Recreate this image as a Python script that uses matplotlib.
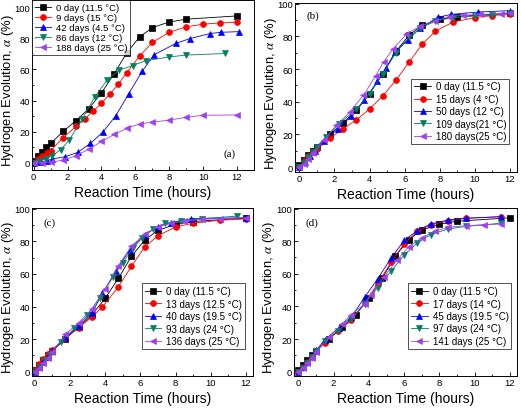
import matplotlib
matplotlib.use("Agg")
import matplotlib.pyplot as plt
from matplotlib.ticker import MultipleLocator

plt.rcParams['font.family'] = ['Liberation Sans', 'DejaVu Sans']
plt.rcParams['mathtext.fontset'] = 'stix'

# ---- data ----
x0 = [0, 0.25, 0.5, 0.75, 1.0, 1.75, 2.5, 3.25, 4.0, 4.75, 5.5, 6.25, 7.0, 8.0, 9.0, 12.0]
y0 = [1, 4.3, 7.3, 10.0, 12.6, 20.3, 27.2, 34.8, 45.0, 57.2, 70.8, 80.8, 86.8, 90.4, 92.2, 94.3]

# panel (a)
a_labels = ["0 day (11.5 °C)", "9 days (15 °C)", "42 days (4.5 °C)", "86 days (12 °C)", "188 days (25 °C)"]
a1_x = [0, 0.25, 0.5, 0.78, 1.0, 1.75, 2.5, 3.0, 3.5, 4.0, 4.5, 5.0, 5.5, 6.25, 7.0, 8.0, 9.0, 10.0, 11.0, 12.0]
a1_y = [0, 2.5, 4.7, 6.4, 8.0, 16.3, 23.5, 28.0, 33.2, 38.2, 44.3, 50.6, 58.0, 68.6, 77.3, 83.8, 87.3, 89.0, 89.8, 90.2]
a2_x = [0, 0.4, 0.8, 1.1, 1.85, 2.6, 3.35, 4.1, 4.85, 5.6, 6.4, 7.1, 8.4, 9.2, 10.4, 11.05, 12.1]
a2_y = [0, 0.5, 1.5, 2.6, 4.0, 6.8, 12.6, 20.0, 30.4, 44.3, 58.7, 69.4, 76.7, 79.7, 83.0, 83.8, 84.2]
a3_x = [0, 0.35, 0.7, 1.1, 1.6, 2.1, 2.85, 3.6, 4.35, 5.05, 5.85, 6.6, 8.0, 9.0, 11.3]
a3_y = [0, 1.2, 2.6, 4.7, 8.6, 14.8, 28.0, 42.3, 53.5, 59.5, 62.5, 65.5, 68.0, 69.2, 70.2]
a4_x = [0, 0.5, 1.0, 1.75, 2.5, 3.25, 4.0, 4.75, 5.5, 6.25, 7.0, 8.0, 9.0, 10.0, 12.0]
a4_y = [0, 0.3, 0.5, 1.8, 4.7, 8.8, 13.8, 18.3, 22.3, 25.0, 26.2, 27.5, 29.3, 30.6, 30.8]

# panel (b)
b_labels = ["0 day (11.5 °C)", "15 days (4 °C)", "50 days (12 °C)", "109 days(21 °C)", "180 days(25 °C)"]
b1_x = [0, 0.25, 0.5, 0.75, 1.0, 1.75, 2.5, 3.25, 4.0, 4.75, 5.5, 6.25, 7.0, 7.75, 8.75, 10.0, 11.0, 12.0]
b1_y = [0, 3.5, 6.5, 9.0, 11.0, 17.8, 23.5, 29.0, 35.6, 43.6, 53.2, 64.3, 75.3, 83.2, 88.8, 91.6, 92.8, 93.8]
b2_x = [0, 0.3, 0.6, 0.9, 1.4, 2.2, 2.95, 3.7, 4.45, 4.95, 5.45, 6.2, 6.86, 7.9, 8.65, 10.2, 12.0]
b2_y = [0, 3.0, 6.5, 10.0, 16.0, 23.5, 31.0, 41.0, 52.5, 60.8, 70.4, 78.0, 85.0, 91.8, 93.5, 95.0, 95.8]
b3_x = [0, 0.25, 0.5, 0.75, 1.0, 1.5, 2.25, 3.25, 4.0, 4.75, 5.5, 6.25, 6.9, 7.75, 8.75, 10.0, 11.0, 12.0]
b3_y = [0, 2.5, 6.0, 9.5, 12.5, 18.5, 26.5, 35.5, 45.0, 57.0, 70.0, 79.5, 85.0, 89.5, 91.5, 92.5, 93.0, 94.5]
b4_x = [0, 0.25, 0.5, 0.75, 1.4, 2.1, 2.9, 3.65, 4.35, 4.8, 5.35, 6.1, 6.9, 7.7, 8.5, 9.3, 10.3, 11.5, 12.0]
b4_y = [0, 2.0, 5.0, 8.5, 16.5, 25.5, 34.0, 44.0, 56.0, 64.5, 72.5, 81.5, 86.5, 89.5, 92.0, 93.0, 93.5, 94.0, 94.5]

# panel (c)
c_labels = ["0 day (11.5 °C)", "13 days (12.5 °C)", "40 days (19.5 °C)", "93 days (24 °C)", "136 days (25 °C)"]
c1_x = [0, 0.25, 0.5, 0.75, 1.0, 1.75, 2.5, 3.25, 3.85, 4.75, 5.5, 6.25, 7.0, 8.0, 9.0, 10.5, 12.0]
c1_y = [1.2, 4.5, 7.8, 10.8, 13.5, 20.8, 27.0, 33.5, 39.8, 52.0, 64.8, 76.5, 83.5, 88.8, 91.2, 93.0, 93.8]
c2_x = [0, 0.25, 0.5, 0.75, 1.0, 1.75, 2.5, 3.25, 3.85, 4.6, 5.4, 6.25, 7.0, 7.75, 8.9, 12.0]
c2_y = [0, 3.0, 6.0, 9.0, 12.5, 21.0, 28.0, 36.0, 48.0, 61.5, 75.0, 84.0, 89.0, 91.5, 94.0, 94.5]
c3_x = [0, 0.3, 0.6, 0.9, 1.5, 2.25, 3.0, 3.7, 4.45, 5.0, 5.6, 6.1, 6.7, 7.4, 8.3, 9.5, 11.5]
c3_y = [0, 3.0, 7.0, 10.5, 18.5, 26.5, 34.5, 45.5, 58.0, 67.0, 76.0, 82.0, 87.5, 91.0, 92.8, 94.0, 95.5]
c4_x = [0, 0.25, 0.5, 0.75, 1.0, 1.75, 2.5, 3.25, 4.0, 4.75, 5.5, 6.25, 7.0, 7.75, 8.5, 9.5, 10.5, 12.0]
c4_y = [0, 2.0, 5.0, 8.5, 12.0, 23.0, 30.0, 38.5, 50.5, 65.0, 77.0, 84.5, 89.0, 91.0, 92.5, 93.5, 94.0, 94.5]

# panel (d)
d_labels = ["0 day (11.5 °C)", "17 days (14 °C)", "45 days (19.5 °C)", "97 days (24 °C)", "141 days (25 °C)"]
d1_x = [0, 0.25, 0.5, 0.75, 1.0, 1.5, 2.25, 3.0, 3.75, 4.5, 5.25, 6.0, 6.75, 7.5, 8.5, 9.5, 11.5]
d1_y = [0, 3.0, 6.0, 9.0, 12.5, 17.8, 24.8, 31.4, 42.0, 54.0, 67.0, 78.5, 86.0, 90.0, 92.5, 94.0, 95.0]
d2_x = [0, 0.25, 0.5, 0.75, 1.0, 1.5, 2.3, 3.0, 3.75, 4.5, 5.25, 6.0, 6.75, 7.5, 8.5, 9.5, 11.5]
d2_y = [0, 3.0, 6.0, 9.5, 13.0, 19.5, 27.0, 33.5, 45.5, 57.0, 69.5, 80.5, 86.5, 90.5, 93.0, 94.0, 95.0]
d3_x = [0, 0.25, 0.5, 0.75, 1.0, 1.5, 2.25, 3.0, 3.75, 4.5, 5.25, 6.0, 6.75, 7.5, 8.5, 9.5, 11.5]
d3_y = [0, 2.5, 5.5, 9.0, 12.5, 18.5, 25.0, 32.5, 41.5, 51.5, 61.5, 71.5, 79.0, 84.0, 87.5, 89.0, 91.0]
d4_x = [0, 0.25, 0.5, 0.75, 1.0, 1.75, 2.5, 3.0, 3.75, 4.1, 4.85, 5.6, 6.25, 7.0, 7.75, 8.5, 9.5, 10.5, 11.5]
d4_y = [0, 2.0, 5.0, 8.5, 12.0, 21.0, 29.5, 35.0, 41.5, 47.0, 58.0, 68.5, 76.5, 82.0, 86.0, 88.5, 89.5, 90.0, 90.5]

colors = ['#000000', '#FF0000', '#0000FF', '#008060', '#A040F0']
markers = ['s', 'o', '^', 'v', '<']

fig = plt.figure(figsize=(5.21, 4.10), dpi=100)

panels = [
    dict(rect=[32/521, 1-170.7/410, 222/521, 169.7/410], xlim=(-0.1, 13.0), ylim=(-4.3, 104.5),
         labels=a_labels, series=[(x0, y0), (a1_x, a1_y), (a2_x, a2_y), (a3_x, a3_y), (a4_x, a4_y)],
         tag='(a)', tagpos=(0.892, 0.098), ylab_x=-0.074, legfs=6.8, legsp=0.12,
         legloc=dict(loc='upper left', bbox_to_anchor=(0.0, 1.0))),
    dict(rect=[295/521, 1-173/410, 222/521, 169/410], xlim=(-0.25, 12.4), ylim=(-3, 100.5),
         labels=b_labels, series=[(x0, y0), (b1_x, b1_y), (b2_x, b2_y), (b3_x, b3_y), (b4_x, b4_y)],
         tag='(b)', tagpos=(0.081, 0.929), ylab_x=-0.074, legfs=7.0, legsp=0.25,
         legloc=dict(loc='lower right', bbox_to_anchor=(0.965, 0.165))),
    dict(rect=[32/521, 1-376.7/410, 221/521, 167.7/410], xlim=(-0.15, 12.4), ylim=(-2.5, 100.5),
         labels=c_labels, series=[(x0, y0), (c1_x, c1_y), (c2_x, c2_y), (c3_x, c3_y), (c4_x, c4_y)],
         tag='(c)', tagpos=(0.081, 0.915), ylab_x=-0.074, legfs=7.0, legsp=0.25,
         legloc=dict(loc='lower right', bbox_to_anchor=(0.965, 0.16))),
    dict(rect=[294/521, 1-376.7/410, 223/521, 168/410], xlim=(-0.25, 12.4), ylim=(-2.5, 100.5),
         labels=d_labels, series=[(x0, y0), (d1_x, d1_y), (d2_x, d2_y), (d3_x, d3_y), (d4_x, d4_y)],
         tag='(d)', tagpos=(0.081, 0.915), ylab_x=-0.074, legfs=7.0, legsp=0.25,
         legloc=dict(loc='lower right', bbox_to_anchor=(0.975, 0.16))),
]

for p in panels:
    ax = fig.add_axes(p['rect'])
    for i, (xs, ys) in enumerate(p['series']):
        ax.plot(xs, ys, color=colors[i], marker=markers[i], markersize=4.2, linewidth=0.6,
                markeredgewidth=0.5, label=p['labels'][i])
    ax.set_xlim(*p['xlim'])
    ax.set_ylim(*p['ylim'])
    ax.xaxis.set_major_locator(MultipleLocator(2))
    ax.xaxis.set_minor_locator(MultipleLocator(1))
    ax.yaxis.set_major_locator(MultipleLocator(20))
    ax.yaxis.set_minor_locator(MultipleLocator(10))
    ax.tick_params(which='both', direction='in', labelsize=6.8, width=0.6, pad=1.5)
    ax.tick_params(which='major', length=3)
    ax.tick_params(which='minor', length=1.6)
    for s in ax.spines.values():
        s.set_linewidth(0.7)
    ax.set_xlabel('Reaction Time (hours)', fontsize=10, labelpad=3)
    ax.set_ylabel(r'Hydrogen Evolution, $\alpha$ (%)', fontsize=9.4)
    ax.yaxis.set_label_coords(p['ylab_x'], 0.47)
    ax.text(p['tagpos'][0], p['tagpos'][1], p['tag'], transform=ax.transAxes,
            fontsize=8, family='Liberation Serif', ha='center', va='center')
    leg = ax.legend(fontsize=p['legfs'], frameon=True, fancybox=False, edgecolor='black',
                    borderaxespad=0, handlelength=1.7, handletextpad=0.5, labelspacing=p['legsp'],
                    borderpad=0.3, **p['legloc'])
    leg.get_frame().set_linewidth(0.6)

fig.savefig('out.png', dpi=100)
